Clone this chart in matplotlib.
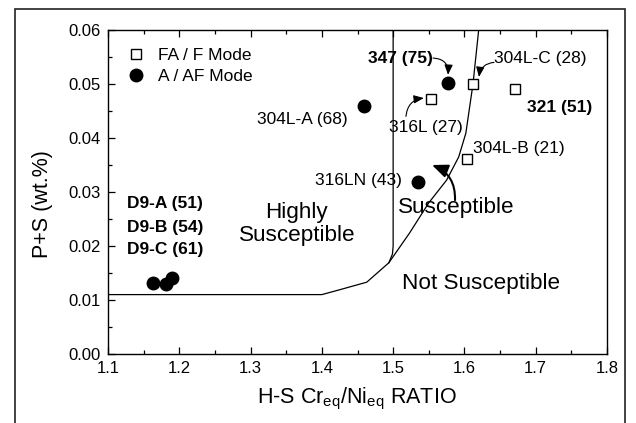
import matplotlib.pyplot as plt
from matplotlib.patches import Rectangle
from matplotlib.ticker import MultipleLocator, FormatStrFormatter

plt.rcParams['font.family'] = ['Liberation Sans', 'DejaVu Sans']
plt.rcParams['mathtext.fontset'] = 'custom'
plt.rcParams['mathtext.rm'] = 'Liberation Sans'

# A / AF mode alloys (filled circles)
af_names = ['D9-A', 'D9-B', 'D9-C', '304L-A', '347', '316LN']
af_ratio = [1.163, 1.181, 1.190, 1.459, 1.577, 1.535]
af_ps    = [0.0131, 0.0130, 0.0141, 0.0459, 0.0502, 0.0319]

# FA / F mode alloys (open squares)
fa_names = ['316L', '304L-C', '321', '304L-B']
fa_ratio = [1.553, 1.612, 1.671, 1.603]
fa_ps    = [0.0472, 0.0500, 0.0491, 0.0361]

# susceptibility boundaries
curve_x = [1.10, 1.40, 1.425, 1.463, 1.494, 1.523, 1.550, 1.575, 1.592, 1.602, 1.612, 1.620]
curve_y = [0.011, 0.011, 0.0119, 0.0133, 0.0169, 0.0224, 0.0280, 0.0322, 0.0365, 0.0409, 0.050, 0.060]
vert_x  = [1.500, 1.500, 1.499, 1.494]
vert_y  = [0.060, 0.020, 0.0185, 0.0169]

fig = plt.figure(figsize=(6.36, 4.23), dpi=100)
ax = fig.add_axes([108 / 636, 1 - 354 / 423, 499 / 636, 324 / 423])

ax.plot(curve_x, curve_y, color='black', lw=0.9)
ax.plot(vert_x, vert_y, color='black', lw=0.9)

ax.plot(fa_ratio, fa_ps, 's', ms=7.6, mfc='white', mec='black', mew=1.0,
        label='FA / F Mode', zorder=3)
ax.plot(af_ratio, af_ps, 'o', ms=9, mfc='black', mec='black',
        label='A / AF Mode', zorder=3)

ax.set_xlim(1.1, 1.8)
ax.set_ylim(0.0, 0.06)
ax.xaxis.set_major_locator(MultipleLocator(0.1))
ax.xaxis.set_minor_locator(MultipleLocator(0.05))
ax.yaxis.set_major_locator(MultipleLocator(0.01))
ax.yaxis.set_minor_locator(MultipleLocator(0.005))
ax.xaxis.set_major_formatter(FormatStrFormatter('%.1f'))
ax.yaxis.set_major_formatter(FormatStrFormatter('%.2f'))
ax.tick_params(which='both', direction='in', top=True, right=False,
               labelsize=12, width=0.9)
ax.tick_params(which='major', length=5)
ax.tick_params(axis='x', which='major', pad=5)
ax.tick_params(axis='y', which='major', pad=5)
ax.tick_params(which='minor', length=3)
for s in ax.spines.values():
    s.set_linewidth(1.0)

ax.set_xlabel(r'H-S Cr$_{\rm eq}$/Ni$_{\rm eq}$ RATIO', fontsize=15.5, va='center')
ax.xaxis.set_label_coords(0.499, -0.139)
ax.set_ylabel('P+S (wt.%)', fontsize=15.5, va='center')
ax.yaxis.set_label_coords(-0.132, 0.463)

ax.legend(loc='upper left', bbox_to_anchor=(0.0387, 0.944), frameon=False,
          fontsize=12.5, handlelength=1.0, handletextpad=0.76,
          labelspacing=0.3, borderpad=0, borderaxespad=0, numpoints=1)

# point labels
lab = dict(fontsize=12.5, va='center')
ax.text(1.4367, 0.0435, '304L-A (68)', ha='right', **lab)
ax.text(1.4647, 0.0548, '347 (75)', ha='left', fontweight='bold', **lab)
ax.text(1.6415, 0.0548, '304L-C (28)', ha='left', **lab)
ax.text(1.6878, 0.0456, '321 (51)', ha='left', fontweight='bold', **lab)
ax.text(1.494, 0.0420, '316L (27)', ha='left', **lab)
ax.text(1.612, 0.0381, '304L-B (21)', ha='left', **lab)
ax.text(1.390, 0.0322, '316LN (43)', ha='left', **lab)
ax.text(1.1267, 0.0278, 'D9-A (51)', ha='left', fontweight='bold', **lab)
ax.text(1.1267, 0.0235, 'D9-B (54)', ha='left', fontweight='bold', **lab)
ax.text(1.1267, 0.0193, 'D9-C (61)', ha='left', fontweight='bold', **lab)

# region labels
big = dict(fontsize=16.2, va='center')
ax.text(1.365, 0.0241, 'Highly\nSusceptible', ha='center', linespacing=1.15, **big)
ax.text(1.5068, 0.0272, 'Susceptible', ha='left', **big)
ax.text(1.5124, 0.0131, 'Not Susceptible', ha='left', **big)

# curved pointer arrows
thin = dict(arrowstyle='-|>,head_length=0.6,head_width=0.25', color='black',
            lw=0.8, shrinkA=0, shrinkB=0)
ax.annotate('', xy=(1.577, 0.0517), xytext=(1.556, 0.0548),
            arrowprops=dict(connectionstyle='arc3,rad=-0.5', **thin))
ax.annotate('', xy=(1.6204, 0.0513), xytext=(1.6415, 0.0540),
            arrowprops=dict(connectionstyle='arc3,rad=0.4', **thin))
ax.annotate('', xy=(1.543, 0.0474), xytext=(1.518, 0.0440),
            arrowprops=dict(connectionstyle='arc3,rad=-0.4', **thin))
ax.annotate('', xy=(1.5545, 0.0350), xytext=(1.5868, 0.0285),
            arrowprops=dict(arrowstyle='-|>,head_length=0.95,head_width=0.4',
                            color='black', lw=1.5, shrinkA=0, shrinkB=0,
                            connectionstyle='arc3,rad=0.35'))

# outer frame
fig.add_artist(Rectangle((15 / 636, -0.1), 610 / 636, 1.1 - 9 / 423,
                         transform=fig.transFigure, fill=False,
                         lw=1.2, edgecolor='#222222'))

fig.savefig('out.png', dpi=100)
